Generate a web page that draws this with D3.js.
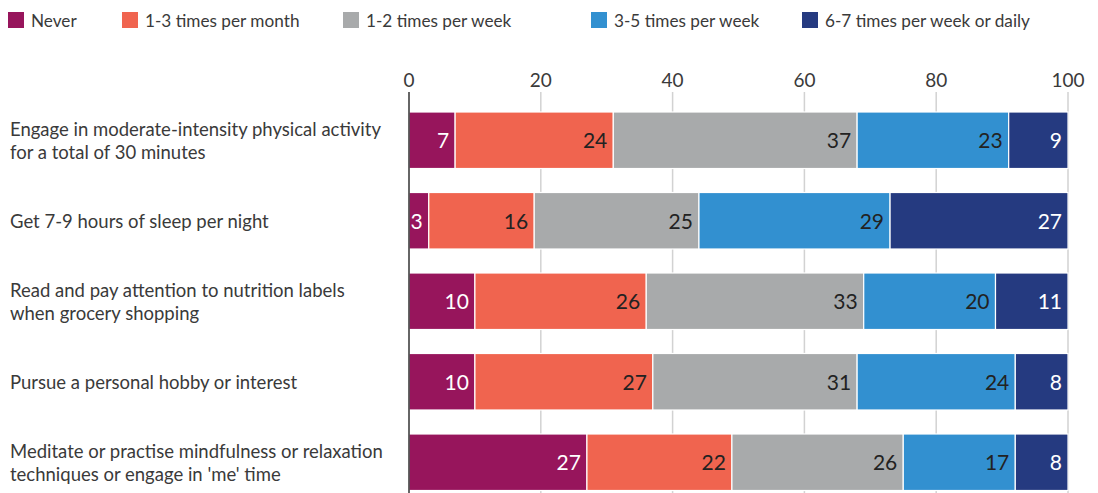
<!DOCTYPE html>
<html>
<head>
<meta charset="utf-8">
<script src="https://cdn.jsdelivr.net/npm/d3@7"></script>
<style>
  html, body { margin: 0; padding: 0; background: #fff; }
  svg { display: block; font-family: Lato, "Open Sans", sans-serif; }
</style>
</head>
<body>
<svg id="chart" width="1098" height="493"></svg>
<script>
// Survey: how often respondents do each healthy activity (% of respondents)
const activities = [
  ["Engage in moderate-intensity physical activity", "for a total of 30 minutes"],
  ["Get 7-9 hours of sleep per night"],
  ["Read and pay attention to nutrition labels", "when grocery shopping"],
  ["Pursue a personal hobby or interest"],
  ["Meditate or practise mindfulness or relaxation", "techniques or engage in 'me' time"]
];
const frequencies = ["Never", "1-3 times per month", "1-2 times per week", "3-5 times per week", "6-7 times per week or daily"];
const never      = [7, 3, 10, 10, 27];
const perMonth   = [24, 16, 26, 27, 22];
const perWeek12  = [37, 25, 33, 31, 26];
const perWeek35  = [23, 29, 20, 24, 17];
const daily      = [9, 27, 11, 8, 8];
const xTicks = [0, 20, 40, 60, 80, 100];

const colors = ["#97155c", "#f0644f", "#a8aaab", "#3290d0", "#253a80"];
const labelColors = ["#ffffff", "#222222", "#222222", "#222222", "#ffffff"];
const series = [never, perMonth, perWeek12, perWeek35, daily];

const svg = d3.select("#chart");
const W = 1098, H = 493;
const x = d3.scaleLinear().domain([0, 100]).range([409, 1068]);
const y = d3.scaleBand().domain(d3.range(activities.length))
  .range([112, 490.5]).paddingInner(0.298).paddingOuter(0);

// rows: stack the five frequency bands per activity
const rows = activities.map((a, i) => {
  const o = { i };
  frequencies.forEach((f, k) => { o[f] = series[k][i]; });
  return o;
});
const stacked = d3.stack().keys(frequencies)(rows);

// Legend
const legendX = [8, 122, 343, 591, 802];
const legend = svg.append("g");
frequencies.forEach((f, k) => {
  const g = legend.append("g").attr("transform", `translate(${legendX[k]},12)`);
  g.append("rect").attr("width", 16).attr("height", 16).attr("fill", colors[k]);
  g.append("text").attr("x", 23).attr("y", 14.5).attr("font-size", 17.2)
    .attr("fill", "#3a3a3a").text(f);
});

// Gridlines and tick labels
const axisTop = 92;
svg.append("g").selectAll("line").data(xTicks.filter(d => d !== 0)).join("line")
  .attr("x1", d => x(d)).attr("x2", d => x(d))
  .attr("y1", axisTop).attr("y2", H)
  .attr("stroke", "#d2d2d2").attr("stroke-width", 1.5);

svg.append("g").selectAll("text").data(xTicks).join("text")
  .attr("x", d => x(d)).attr("y", 87)
  .attr("text-anchor", "middle").attr("font-size", 19).attr("fill", "#3a3a3a")
  .text(d => d);

// Bars
const layers = svg.append("g").selectAll("g").data(stacked).join("g")
  .attr("fill", (d, k) => colors[k]);
layers.selectAll("rect").data(d => d).join("rect")
  .attr("x", d => x(d[0]))
  .attr("y", (d, i) => y(i))
  .attr("width", d => x(d[1]) - x(d[0]))
  .attr("height", y.bandwidth())
  .attr("stroke", "#ffffff").attr("stroke-width", 1.2);

// Value labels, right-aligned inside each segment
stacked.forEach((layer, k) => {
  svg.append("g").selectAll("text").data(layer).join("text")
    .attr("x", d => x(d[1]) - 6)
    .attr("y", (d, i) => y(i) + y.bandwidth() / 2 + 8)
    .attr("text-anchor", "end").attr("font-size", 21)
    .attr("fill", labelColors[k])
    .text(d => d[1] - d[0]);
});

// Zero line
svg.append("line").attr("x1", x(0)).attr("x2", x(0))
  .attr("y1", axisTop).attr("y2", H)
  .attr("stroke", "#333333").attr("stroke-width", 1.5);

// Category labels
const cats = svg.append("g");
activities.forEach((lines, i) => {
  const cy = y(i) + y.bandwidth() / 2;
  const lh = 23;
  const t = cats.append("text").attr("font-size", 18.5).attr("fill", "#3a3a3a");
  lines.forEach((line, j) => {
    t.append("tspan").attr("x", 10)
      .attr("y", cy + 7 + (j - (lines.length - 1) / 2) * lh)
      .text(line);
  });
});
</script>
</body>
</html>
